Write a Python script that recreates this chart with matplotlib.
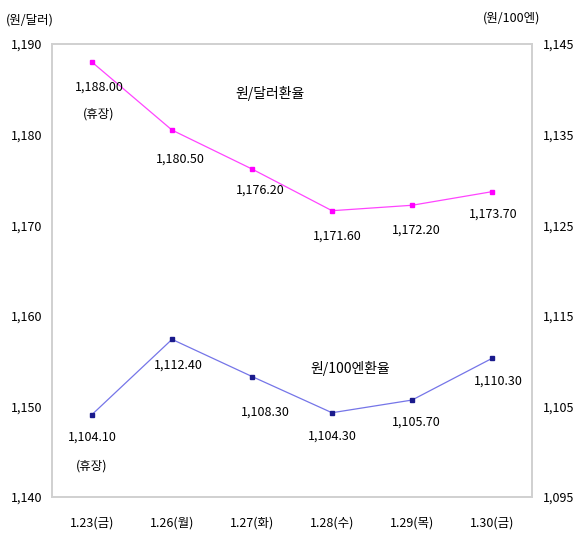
import matplotlib
matplotlib.use("Agg")
import matplotlib.pyplot as plt
from matplotlib.ticker import FuncFormatter

plt.rcParams['font.family'] = ['Noto Sans CJK KR', 'DejaVu Sans']

dates = ["1.23(금)", "1.26(월)", "1.27(화)", "1.28(수)", "1.29(목)", "1.30(금)"]
usd = [1188.00, 1180.50, 1176.20, 1171.60, 1172.20, 1173.70]
jpy = [1104.10, 1112.40, 1108.30, 1104.30, 1105.70, 1110.30]
usd_notes = ["(휴장)", "", "", "", "", ""]
jpy_notes = ["(휴장)", "", "", "", "", ""]

fig = plt.figure(figsize=(5.79, 5.40), dpi=100)
ax = fig.add_axes([52/579, 1-497/540, (532-52)/579, (497-44)/540])
ax2 = ax.twinx()

x = list(range(len(dates)))
ax.plot(x, usd, color='#ff44ff', lw=0.9, marker='s', ms=3, mfc='#ff00ff', mec='#ff00ff', zorder=3)
ax2.plot(x, jpy, color='#7575e8', lw=0.9, marker='s', ms=2.6, mfc='#1a1a8c', mec='#1a1a8c', zorder=3)

ax.set_xlim(-0.5, 5.5)
ax.set_ylim(1140, 1190)
ax2.set_ylim(1095, 1145)
ax.set_yticks(range(1140, 1191, 10))
ax2.set_yticks(range(1095, 1146, 10))
fmt = FuncFormatter(lambda v, p: f"{int(v):,}")
ax.yaxis.set_major_formatter(fmt)
ax2.yaxis.set_major_formatter(fmt)
ax.set_xticks(x)
ax.set_xticklabels(dates)

for a in (ax, ax2):
    for s in a.spines.values():
        s.set_color('#d0d0d0')
        s.set_linewidth(1.2)
    a.tick_params(length=0, labelsize=9, colors='black')
ax.tick_params(axis='y', pad=7)
ax2.tick_params(axis='y', pad=8)
ax.tick_params(axis='x', pad=14)

usd_off = [(7, -25), (8, -29), (8, -21), (5, -25), (4, -25), (1, -22)]
jpy_off = [(0, -23), (6, -26), (13, -36), (0, -23), (4, -22), (6, -23)]
for i, v in enumerate(usd):
    ax.annotate(f"{v:,.2f}", (i, v), xytext=usd_off[i], textcoords='offset pixels',
                ha='center', va='center', fontsize=9)
    if usd_notes[i]:
        ax.annotate(usd_notes[i], (i, v), xytext=(usd_off[i][0], usd_off[i][1] - 27),
                    textcoords='offset pixels', ha='center', va='center', fontsize=9)
for i, v in enumerate(jpy):
    ax2.annotate(f"{v:,.2f}", (i, v), xytext=jpy_off[i], textcoords='offset pixels',
                 ha='center', va='center', fontsize=9)
    if jpy_notes[i]:
        ax2.annotate(jpy_notes[i], (i, v), xytext=(jpy_off[i][0], jpy_off[i][1] - 28),
                     textcoords='offset pixels', ha='center', va='center', fontsize=9)

fig.text(270/579, 1-93/540, "원/달러환율", ha='center', va='center', fontsize=10)
fig.text(350/579, 1-368/540, "원/100엔환율", ha='center', va='center', fontsize=10)
fig.text(30/579, 1-20/540, "(원/달러)", ha='center', va='center', fontsize=9)
fig.text(512/579, 1-18/540, "(원/100엔)", ha='center', va='center', fontsize=9)

fig.savefig("out.png", dpi=100)
